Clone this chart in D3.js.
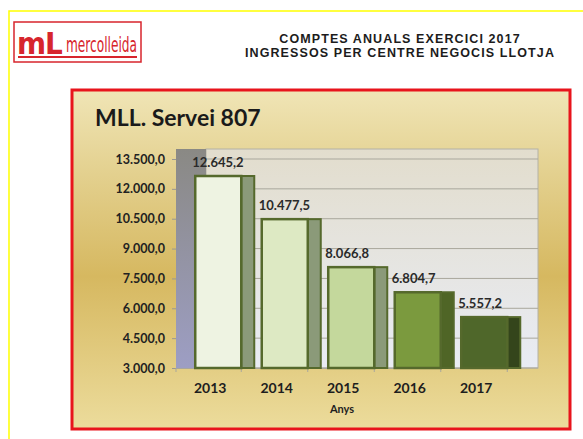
<!DOCTYPE html>
<html>
<head>
<meta charset="utf-8">
<script src="https://cdn.jsdelivr.net/npm/d3@7"></script>
<style>
  body { margin: 0; background: #ffffff; }
  svg { display: block; }
</style>
</head>
<body>
<div id="chart"></div>
<script>

// data
var years = ['2013', '2014', '2015', '2016', '2017']
var ingressos = [12645.2, 10477.5, 8066.8, 6804.7, 5557.2]
var yTicks = [3000, 4500, 6000, 7500, 9000, 10500, 12000, 13500]
var frontColors = ['#eef3e2', '#dde9c3', '#c4d89c', '#7b9a3e', '#4f672a']
var sideColors = ['#8b9a79', '#8b9a79', '#8b9a79', '#4f6526', '#34451b']

var width = 583
    height = 439

// catalan number format: 12.645,2
var locale = d3.formatLocale({decimal: ',', thousands: '.', grouping: [3], currency: ['', '€']})
var fmt = locale.format(',.1f')

var svg = d3.select('#chart')
  .append('svg')
    .attr('width', width)
    .attr('height', height)

var defs = svg.append('defs')

var gold = defs.append('linearGradient')
    .attr('id', 'gold')
    .attr('x1', 0).attr('y1', 0).attr('x2', 0).attr('y2', 1)
gold.append('stop').attr('offset', '0%').attr('stop-color', '#f0e5b6')
gold.append('stop').attr('offset', '25%').attr('stop-color', '#e3d08e')
gold.append('stop').attr('offset', '55%').attr('stop-color', '#d6b860')
gold.append('stop').attr('offset', '100%').attr('stop-color', '#ecdc9c')

var wall = defs.append('linearGradient')
    .attr('id', 'wall')
    .attr('x1', 0).attr('y1', 0).attr('x2', 0).attr('y2', 1)
wall.append('stop').attr('offset', '0%').attr('stop-color', '#e2ddcd')
wall.append('stop').attr('offset', '100%').attr('stop-color', '#e9ecf4')

var sideWall = defs.append('linearGradient')
    .attr('id', 'sidewall')
    .attr('x1', 0).attr('y1', 0).attr('x2', 0).attr('y2', 1)
sideWall.append('stop').attr('offset', '0%').attr('stop-color', '#8a8984')
sideWall.append('stop').attr('offset', '100%').attr('stop-color', '#9d9ec4')

// yellow page border
svg.append('rect')
    .attr('x', 9).attr('y', 11)
    .attr('width', 620).attr('height', 460)
    .attr('fill', 'none')
    .attr('stroke', '#ffff00')
    .attr('stroke-width', 1.5)

// logo
var logo = svg.append('g')
logo.append('rect')
    .attr('x', 14).attr('y', 22)
    .attr('width', 127).attr('height', 40)
    .attr('fill', '#ffffff')
    .attr('stroke', '#d7252d')
    .attr('stroke-width', 1.5)
logo.append('text')
    .attr('x', 17).attr('y', 54)
    .style('font-family', '"DejaVu Sans Condensed", "DejaVu Sans", sans-serif')
    .style('font-weight', 'bold')
    .style('font-size', '31px')
    .style('letter-spacing', '-1px')
    .attr('fill', '#d7252d')
    .text('mL')
logo.append('text')
    .attr('x', 66).attr('y', 52)
    .attr('textLength', 71).attr('lengthAdjust', 'spacingAndGlyphs')
    .style('font-family', '"Liberation Sans Narrow", "DejaVu Sans Condensed", sans-serif')
    .style('font-size', '22px')
    .attr('fill', '#d7252d')
    .text('mercolleida')
logo.append('line')
    .attr('x1', 18).attr('x2', 137)
    .attr('y1', 57).attr('y2', 57)
    .attr('stroke', '#d7252d')
    .attr('stroke-width', 2)

// header
var header = ['COMPTES  ANUALS  EXERCICI  2017', 'INGRESSOS  PER  CENTRE  NEGOCIS  LLOTJA']
svg.selectAll('.header')
  .data(header)
  .enter()
  .append('text')
    .attr('class', 'header')
    .attr('x', 400)
    .attr('y', function(d, i) { return 43 + i * 14 })
    .attr('text-anchor', 'middle')
    .style('font-family', '"Liberation Sans", Arial, sans-serif')
    .style('font-weight', 'bold')
    .style('font-size', '12.5px')
    .style('letter-spacing', '1.1px')
    .attr('fill', '#1c1c1c')
    .text(function(d) { return d })

// red framed chart area
svg.append('rect')
    .attr('x', 72).attr('y', 90)
    .attr('width', 498).attr('height', 339)
    .attr('fill', 'url(#gold)')
    .attr('stroke', '#e8141c')
    .attr('stroke-width', 3)

svg.append('text')
    .attr('x', 95).attr('y', 126)
    .style('font-family', 'Lato, sans-serif')
    .style('font-weight', 'bold')
    .style('font-size', '23px')
    .attr('fill', '#1a1a1a')
    .text('MLL. Servei 807')

// scales
var y = d3.scaleLinear()
  .domain([3000, 13500])
  .range([368, 159])

var x = d3.scaleBand()
  .domain(years)
  .range([185, 517.5])
  .paddingInner(0.308)
  .paddingOuter(0.154)

var depth = 30   // 3d shift of the back wall
var side = 13    // visible side face of each bar
var floorLeft = 176

// walls
svg.append('rect')
    .attr('x', floorLeft + depth).attr('y', 149)
    .attr('width', 332).attr('height', 368 - 149)
    .attr('fill', 'url(#wall)')
    .attr('stroke', '#b4b2a6')
    .attr('stroke-width', 1)

svg.append('rect')
    .attr('x', floorLeft).attr('y', 149)
    .attr('width', depth).attr('height', 368 - 149)
    .attr('fill', 'url(#sidewall)')

// gridlines on the back wall
svg.append('g')
  .selectAll('line')
  .data(yTicks)
  .enter()
  .append('line')
    .attr('x1', floorLeft + depth).attr('x2', floorLeft + depth + 332)
    .attr('y1', function(d) { return y(d) })
    .attr('y2', function(d) { return y(d) })
    .attr('stroke', '#a9a79c')
    .attr('stroke-width', 1)

// y axis
var yAxis = svg.append('g')
    .attr('transform', 'translate(' + floorLeft + ',0)')
    .call(d3.axisLeft(y).tickValues(yTicks).tickFormat(fmt).tickSize(4).tickPadding(7))
yAxis.select('.domain').remove()
yAxis.selectAll('line').attr('stroke', '#9a9890')
yAxis.selectAll('text')
    .style('font-family', 'Lato, sans-serif')
    .style('font-weight', 'bold')
    .style('font-size', '12.5px')
    .attr('fill', '#222')

// floor line and category ticks
svg.append('line')
    .attr('x1', floorLeft).attr('x2', floorLeft + 332)
    .attr('y1', 368.5).attr('y2', 368.5)
    .attr('stroke', '#a9a79c')
svg.append('g')
  .selectAll('line')
  .data([floorLeft].concat(years.map(function(d) { return x(d) + x.bandwidth() })))
  .enter()
  .append('line')
    .attr('x1', function(d) { return d }).attr('x2', function(d) { return d })
    .attr('y1', 368).attr('y2', 372)
    .attr('stroke', '#a9a79c')

// building bars
var bars = svg.append('g')
  .selectAll('g')
  .data(years)
  .enter()
  .append('g')

bars.append('rect')
    .attr('x', function(d) { return x(d) + x.bandwidth() })
    .attr('y', function(d, i) { return y(ingressos[i]) })
    .attr('width', side)
    .attr('height', function(d, i) { return y(3000) - y(ingressos[i]) })
    .attr('fill', function(d, i) { return sideColors[i] })
    .attr('stroke', '#55692c')
    .style('stroke-width', '2px')

bars.append('rect')
    .attr('x', function(d) { return x(d) })
    .attr('y', function(d, i) { return y(ingressos[i]) })
    .attr('width', x.bandwidth())
    .attr('height', function(d, i) { return y(3000) - y(ingressos[i]) })
    .attr('fill', function(d, i) { return frontColors[i] })
    .attr('stroke', '#55692c')
    .style('stroke-width', '2.5px')

// value labels
bars.append('text')
    .attr('x', function(d) { return x(d) - 3 })
    .attr('y', function(d, i) { return y(ingressos[i]) - 9 })
    .style('font-family', 'Lato, sans-serif')
    .style('font-weight', 'bold')
    .style('font-size', '13px')
    .attr('fill', '#2a2a2a')
    .text(function(d, i) { return fmt(ingressos[i]) })

// x labels
svg.append('g')
  .selectAll('text')
  .data(years)
  .enter()
  .append('text')
    .attr('x', function(d) { return x(d) + x.bandwidth() / 2 - 8 })
    .attr('y', 393)
    .attr('text-anchor', 'middle')
    .style('font-family', 'Lato, sans-serif')
    .style('font-weight', 'bold')
    .style('font-size', '14px')
    .attr('fill', '#1e1e1e')
    .text(function(d) { return d })

svg.append('text')
    .attr('x', 342).attr('y', 413)
    .attr('text-anchor', 'middle')
    .style('font-family', 'Lato, sans-serif')
    .style('font-weight', 'bold')
    .style('font-size', '11px')
    .attr('fill', '#1e1e1e')
    .text('Anys')

</script>
</body>
</html>
